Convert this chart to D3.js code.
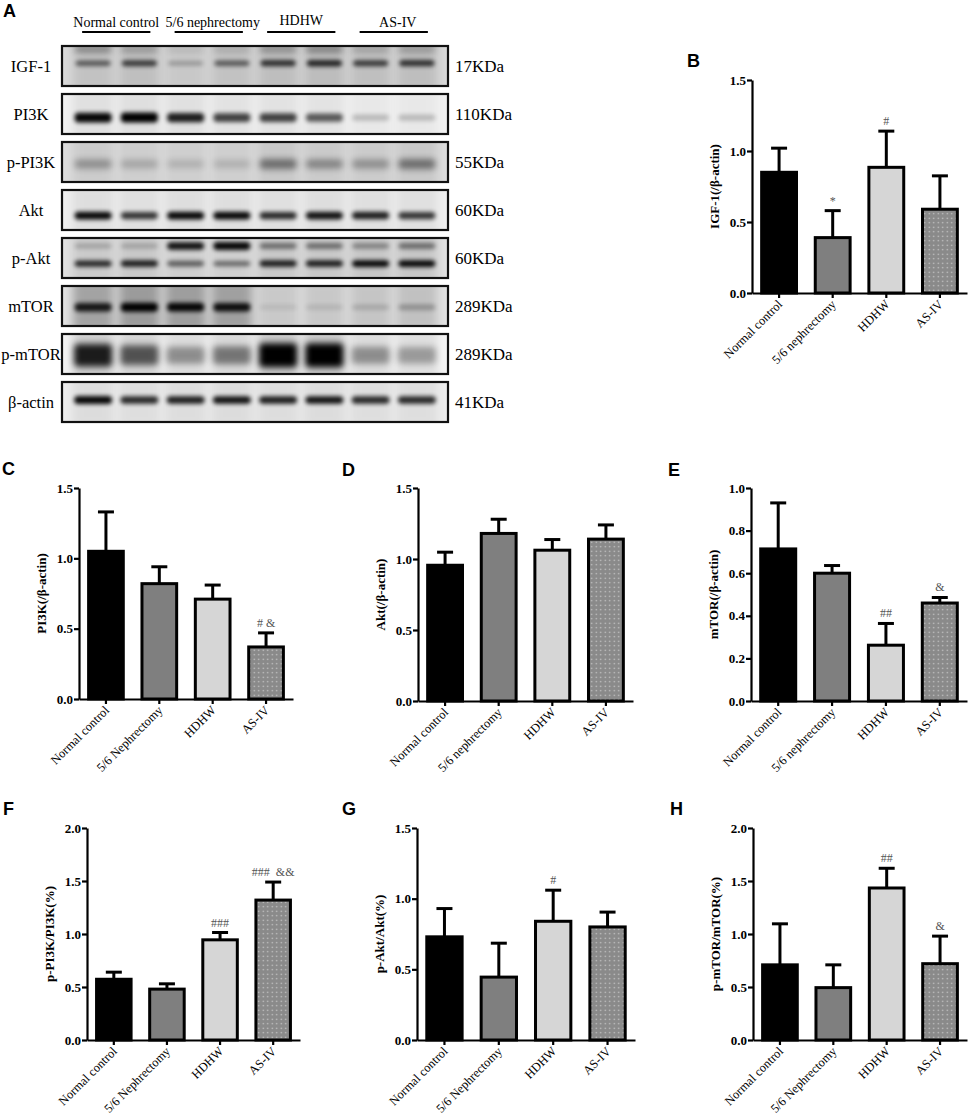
<!DOCTYPE html>
<html><head><meta charset="utf-8">
<script src="https://cdn.jsdelivr.net/npm/d3@7"></script>
<style>body{margin:0;background:#fff}svg{display:block}</style>
</head><body><svg id="c" width="969" height="1115"></svg>
<script>
// ---------------- DATA ----------------
const groupsLower = ["Normal control","5/6 nephrectomy","HDHW","AS-IV"];
const groupsUpper = ["Normal control","5/6 Nephrectomy","HDHW","AS-IV"];
const blotGroups = ["Normal control","5/6 nephrectomy","HDHW","AS-IV"];
const blotRows = ["IGF-1","PI3K","p-PI3K","Akt","p-Akt","mTOR","p-mTOR","β-actin"];
const blotKDa = ["17KDa","110KDa","55KDa","60KDa","60KDa","289KDa","289KDa","41KDa"];
const lanes = [1,2,3,4,5,6,7,8];
// band intensities (0-1) per lane, read from the blot
const igf1Upper  = [0.35,0.25,0.10,0.15,0.30,0.35,0.20,0.25];
const igf1Band   = [0.55,0.70,0.25,0.55,0.75,0.80,0.70,0.75];
const pi3kBand   = [0.95,1.00,0.85,0.70,0.70,0.60,0.20,0.20];
const ppi3kBand  = [0.30,0.20,0.15,0.15,0.45,0.35,0.30,0.45];
const aktBand    = [0.95,0.75,0.95,0.95,0.80,0.90,0.85,0.75];
const paktUpper  = [0.20,0.20,0.90,0.95,0.45,0.45,0.35,0.45];
const paktLower  = [0.80,0.85,0.55,0.50,0.85,0.85,0.95,0.95];
const mtorBand   = [0.85,1.00,0.95,0.90,0.08,0.10,0.15,0.25];
const pmtorBand  = [0.85,0.60,0.35,0.45,1.00,1.00,0.35,0.30];
const actinBand  = [0.95,0.80,0.85,0.90,0.85,0.90,0.80,0.80];

// quantification (mean, SEM, significance marks)
const igf1Mean  = [0.85,0.39,0.885,0.59],  igf1Sem  = [0.17,0.19,0.255,0.235], igf1Sig  = ["","*","#",""];
const pi3kMean  = [1.05,0.82,0.71,0.37],   pi3kSem  = [0.28,0.12,0.10,0.10],   pi3kSig  = ["","","","# &"];
const aktMean   = [0.956,1.18,1.062,1.14], aktSem   = [0.092,0.10,0.075,0.10], aktSig   = ["","","",""];
const mtorMean  = [0.714,0.60,0.262,0.46], mtorSem  = [0.216,0.036,0.102,0.026], mtorSig = ["","","##","&"];
const ppi3kMean = [0.573,0.48,0.945,1.32], ppi3kSem = [0.067,0.05,0.069,0.17], ppi3kSig = ["","","###","###  &&"];
const paktMean  = [0.73,0.445,0.84,0.80],  paktSem  = [0.20,0.24,0.22,0.105],  paktSig  = ["","","#",""];
const pmtorMean = [0.709,0.494,1.434,0.72],pmtorSem = [0.387,0.215,0.186,0.26],pmtorSig = ["","","##","&"];
const ticks15 = [0,0.5,1.0,1.5];
const ticks10 = [0,0.2,0.4,0.6,0.8,1.0];
const ticks20 = [0,0.5,1.0,1.5,2.0];

// ---------------- DRAW ----------------
const svg = d3.select("#c");
svg.append("rect").attr("width",969).attr("height",1115).attr("fill","#fff");
const defs = svg.append("defs");
function blur(id,s){
  defs.append("filter").attr("id",id).attr("x","-50%").attr("y","-100%").attr("width","200%").attr("height","300%")
    .append("feGaussianBlur").attr("stdDeviation",s);
}
blur("b2",2.2); blur("b3",3.4); blur("b5",5);
const pat = defs.append("pattern").attr("id","dots").attr("patternUnits","userSpaceOnUse").attr("width",4.5).attr("height",4.5);
pat.append("rect").attr("width",4.5).attr("height",4.5).attr("fill","#8a8a8a");
pat.append("circle").attr("cx",2.25).attr("cy",2.25).attr("r",0.75).attr("fill","#d2d2d2");

const serif = "'Liberation Serif','Times New Roman',serif";
const sans = "'Liberation Sans',Arial,sans-serif";

// panel letters
const letters = [["A",3,17],["B",687,67],["C",2,475],["D",342,476],["E",668,476],["F",3,815],["G",342,815],["H",670,815]];
svg.selectAll("text.letter").data(letters).join("text").attr("class","letter")
  .attr("x",d=>d[1]).attr("y",d=>d[2]).text(d=>d[0])
  .style("font-family",sans).style("font-weight","bold").style("font-size","18px");

// ---------- Western blot ----------
const blotBox = {left:62,right:448,top:46,step:48,h:40};
const laneX = d3.scaleBand().domain(lanes).range([blotBox.left+8, blotBox.right-8]);
const rowY = d3.scaleBand().domain(blotRows).range([blotBox.top, blotBox.top+blotBox.step*blotRows.length]);
const rowStyle = [
  {bg:"#d8d8d8", smear:0.10, bands:[{d:igf1Upper,pos:0.08,h:9,f:"b3",w:0.8},{d:igf1Band,pos:0.43,h:7,f:"b2",w:0.76}]},
  {bg:"#f1f1f1", smear:0.05, bands:[{d:pi3kBand,pos:0.59,h:10,f:"b2",w:0.8}]},
  {bg:"#dcdcdc", smear:0.10, bands:[{d:ppi3kBand,pos:0.55,h:13,f:"b3",w:0.8}]},
  {bg:"#efefef", smear:0.05, bands:[{d:aktBand,pos:0.64,h:8,f:"b2",w:0.8}]},
  {bg:"#e0e0e0", smear:0.08, bands:[{d:paktUpper,pos:0.2,h:8,f:"b2",w:0.8},{d:paktLower,pos:0.64,h:7,f:"b2",w:0.8}]},
  {bg:"#e2e2e2", smear:0.22, bands:[{d:mtorBand,pos:0.53,h:9,f:"b2",w:0.8}]},
  {bg:"#f3f3f3", smear:0.12, bands:[{d:pmtorBand,pos:0.53,h:24,f:"b3",w:0.82}]},
  {bg:"#ededed", smear:0.05, bands:[{d:actinBand,pos:0.45,h:8,f:"b2",w:0.82}]}
];
// headers
blotGroups.forEach((gname,gi)=>{
  const a = laneX(lanes[gi*2]) + laneX.bandwidth()/2, b = laneX(lanes[gi*2+1]) + laneX.bandwidth()/2;
  svg.append("line").attr("x1",a-11).attr("x2",b+11).attr("y1",32).attr("y2",32).attr("stroke","#000").attr("stroke-width",2);
  svg.append("text").attr("x",(a+b)/2 + (gi===1?4:gi===3?4:0)).attr("y",gi===2?25:27).attr("text-anchor","middle")
    .style("font-family",serif).style("font-size","14px").text(gname);
});
blotRows.forEach((rname,ri)=>{
  const y0 = rowY(rname), h = blotBox.h, st = rowStyle[ri];
  const cid = "clip"+ri;
  defs.append("clipPath").attr("id",cid).append("rect").attr("x",blotBox.left).attr("y",y0).attr("width",blotBox.right-blotBox.left).attr("height",h);
  const g = svg.append("g").attr("clip-path",`url(#${cid})`);
  g.append("rect").attr("x",blotBox.left).attr("y",y0).attr("width",blotBox.right-blotBox.left).attr("height",h).attr("fill",st.bg);
  const main = st.bands[st.bands.length-1].d;
  // lane smears
  g.selectAll("rect.smear").data(main).join("rect").attr("class","smear")
    .attr("x",(d,i)=>laneX(lanes[i])+laneX.bandwidth()*0.06).attr("width",laneX.bandwidth()*0.88)
    .attr("y",y0-6).attr("height",h+12).attr("fill","#000")
    .attr("opacity",d=>st.smear*(0.4+d)).attr("filter","url(#b5)");
  st.bands.forEach(bd=>{
    g.selectAll(null).data(bd.d).join("rect")
      .attr("x",(d,i)=>laneX(lanes[i])+laneX.bandwidth()*(1-bd.w)/2).attr("width",laneX.bandwidth()*bd.w)
      .attr("y",d=>y0+h*bd.pos - bd.h*(0.55+0.45*d)/2).attr("height",d=>bd.h*(0.55+0.45*d))
      .attr("rx",4).attr("fill","#050505").attr("opacity",d=>Math.min(1,d*1.02)).attr("filter",`url(#${bd.f})`);
  });
  svg.append("rect").attr("x",blotBox.left).attr("y",y0).attr("width",blotBox.right-blotBox.left).attr("height",h)
    .attr("fill","none").attr("stroke","#111").attr("stroke-width",2.2);
  svg.append("text").attr("x",31).attr("y",y0+h/2+5.5).attr("text-anchor","middle")
    .style("font-family",serif).style("font-size","16.5px").text(rname);
  svg.append("text").attr("x",455).attr("y",y0+h/2+6).style("font-family",serif).style("font-size","17px").text(blotKDa[ri]);
});

// ---------- Bar panels ----------
const fills = ["#000000","#7f7f7f","#d6d6d6","url(#dots)"];
const panels = [
  {cats:groupsLower, mean:igf1Mean, sem:igf1Sem, sig:igf1Sig, label:"IGF-1(/β-actin)", x0:752,x1:967,yt:80,yb:293, dom:[0,1.5], ticks:ticks15},
  {cats:groupsUpper, mean:pi3kMean, sem:pi3kSem, sig:pi3kSig, label:"PI3K(/β-actin)", x0:79,x1:293,yt:488,yb:699, dom:[0,1.5], ticks:ticks15},
  {cats:groupsLower, mean:aktMean, sem:aktSem, sig:aktSig, label:"Akt(/β-actin)", x0:418,x1:633,yt:488,yb:701, dom:[0,1.5], ticks:ticks15},
  {cats:groupsLower, mean:mtorMean, sem:mtorSem, sig:mtorSig, label:"mTOR(/β-actin)", x0:751,x1:967,yt:488,yb:701, dom:[0,1.0], ticks:ticks10},
  {cats:groupsUpper, mean:ppi3kMean, sem:ppi3kSem, sig:ppi3kSig, label:"p-PI3K/PI3K(%)", x0:87,x1:300,yt:828,yb:1040, dom:[0,2.0], ticks:ticks20},
  {cats:groupsUpper, mean:paktMean, sem:paktSem, sig:paktSig, label:"p-Akt/Akt(%)", x0:417,x1:635,yt:828,yb:1040, dom:[0,1.5], ticks:ticks15},
  {cats:groupsUpper, mean:pmtorMean, sem:pmtorSem, sig:pmtorSig, label:"p-mTOR/mTOR(%)", x0:753,x1:967,yt:828,yb:1040, dom:[0,2.0], ticks:ticks20}
];
panels.forEach(p=>{
  const g = svg.append("g");
  const x = d3.scaleBand().domain(p.cats).range([p.x0,p.x1]).paddingInner(0.35).paddingOuter(0.18);
  const y = d3.scaleLinear().domain(p.dom).range([p.yb,p.yt]);
  const rows = p.cats.map((c,i)=>({c, m:p.mean[i], s:p.sem[i], sig:p.sig[i], i}));
  const cx = d=>x(d.c)+x.bandwidth()/2;
  // error bars
  g.selectAll("line.err").data(rows).join("line").attr("x1",cx).attr("x2",cx)
    .attr("y1",d=>y(d.m)).attr("y2",d=>y(d.m+d.s)).attr("stroke","#000").attr("stroke-width",3);
  g.selectAll("line.cap").data(rows).join("line").attr("x1",d=>cx(d)-8).attr("x2",d=>cx(d)+8)
    .attr("y1",d=>y(d.m+d.s)).attr("y2",d=>y(d.m+d.s)).attr("stroke","#000").attr("stroke-width",3);
  // bars
  g.selectAll("rect.bar").data(rows).join("rect").attr("x",d=>x(d.c)).attr("width",x.bandwidth())
    .attr("y",d=>y(d.m)).attr("height",d=>y(0)-y(d.m)).attr("fill",d=>fills[d.i])
    .attr("stroke","#000").attr("stroke-width",3);
  // significance
  g.selectAll("text.sig").data(rows.filter(d=>d.sig)).join("text").attr("x",cx).attr("y",d=>y(d.m+d.s)-6)
    .attr("text-anchor","middle").style("font-family",serif).style("font-size","12px").attr("fill","#555")
    .style("white-space","pre").attr("xml:space","preserve").text(d=>d.sig);
  // axes
  const ya = g.append("g").attr("transform",`translate(${p.x0},0)`)
    .call(d3.axisLeft(y).tickValues(p.ticks).tickFormat(d3.format(".1f")).tickSize(5).tickSizeOuter(0).tickPadding(1));
  const xa = g.append("g").attr("transform",`translate(0,${p.yb})`)
    .call(d3.axisBottom(x).tickSize(5).tickSizeOuter(0));
  [ya,xa].forEach(a=>{
    a.selectAll("path,line").attr("stroke","#000").attr("stroke-width",2.2);
    a.selectAll("text").attr("fill","#000").style("font-family",serif);
  });
  ya.selectAll("text").style("font-weight","bold").style("font-size","13px");
  xa.selectAll("text").attr("x",0).attr("y",0).attr("dy",0)
    .attr("transform","translate(4,12) rotate(-45)").style("text-anchor","end")
    .style("font-size","12.5px");
  g.append("text").attr("transform",`translate(${p.x0-33},${(p.yt+p.yb)/2}) rotate(-90)`)
    .attr("text-anchor","middle").style("font-family",serif).style("font-weight","bold").style("font-size","13px")
    .text(p.label);
});
</script></body></html>
